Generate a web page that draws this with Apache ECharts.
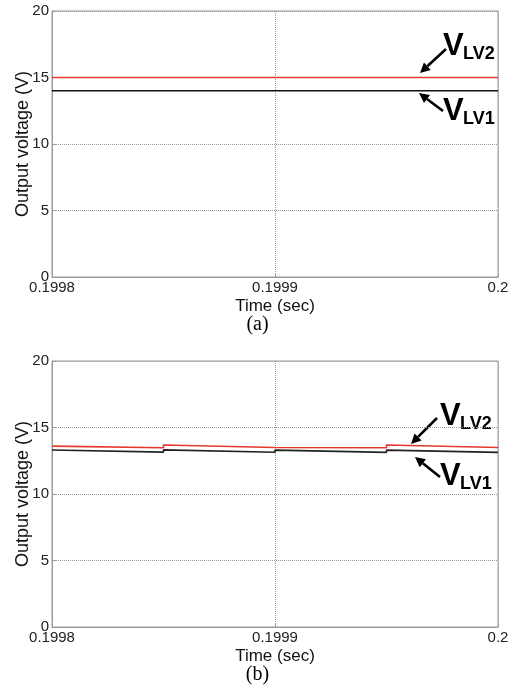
<!DOCTYPE html>
<html>
<head>
<meta charset="utf-8">
<script src="https://cdn.jsdelivr.net/npm/echarts@6/dist/echarts.min.js"></script>
<style>
html, body { margin: 0; padding: 0; background: #fff; }
#chart { width: 515px; height: 690px; }
</style>
</head>
<body>
<div id="chart"></div>
<script>
// time axis (sec)
var xTicks = [0.1998, 0.1999, 0.2];
var yTicks = [0, 5, 10, 15, 20];

// (a) steady outputs
var timeA = [0.1998, 0.2];
var vLv2A = [15, 15];
var vLv1A = [14, 14];

// (b) outputs with small steps every 25 us
var timeB = [0.1998, 0.19985, 0.19985, 0.1999, 0.1999, 0.19995, 0.19995, 0.2];
var vLv2B = [13.6, 13.48, 13.68, 13.5, 13.64, 13.48, 13.68, 13.5];
var vLv1B = [13.31, 13.15, 13.32, 13.14, 13.3, 13.13, 13.3, 13.13];

var font = 'Liberation Sans, Arial, sans-serif';
var gray = '#9a9a9a';

function pairs(t, v) {
  var out = [];
  for (var i = 0; i < t.length; i++) out.push([t[i], v[i]]);
  return out;
}

function xAxisFor(idx) {
  return {
    gridIndex: idx, type: 'value',
    min: xTicks[0], max: xTicks[xTicks.length - 1], interval: 0.0001,
    name: 'Time (sec)', nameLocation: 'middle', nameGap: 21,
    nameTextStyle: { fontFamily: font, fontSize: 17, color: '#111' },
    axisLine: { lineStyle: { color: gray, width: 1 } },
    axisTick: { inside: true, length: 4, lineStyle: { color: gray } },
    axisLabel: {
      fontFamily: font, fontSize: 15, color: '#222', margin: 3,
      formatter: function (v) { return String(+v.toFixed(4)); }
    },
    splitLine: { show: true, lineStyle: { color: '#999', type: 'dotted', width: 1 } }
  };
}

function yAxisFor(idx) {
  return {
    gridIndex: idx, type: 'value', min: yTicks[0], max: yTicks[yTicks.length - 1], interval: 5,
    name: 'Output voltage (V)', nameLocation: 'middle', nameGap: 20, nameMoveOverlap: false,
    nameTextStyle: { fontFamily: font, fontSize: 18, color: '#111' },
    axisLine: { show: true, lineStyle: { color: gray, width: 1 } },
    axisTick: { inside: true, length: 4, lineStyle: { color: gray } },
    axisLabel: { fontFamily: font, fontSize: 15, color: '#222', margin: 3 },
    splitLine: { show: true, lineStyle: { color: '#999', type: 'dotted', width: 1 } }
  };
}

function line(idx, name, t, v, color) {
  return {
    type: 'line', name: name, xAxisIndex: idx, yAxisIndex: idx,
    data: pairs(t, v), symbol: 'none', animation: false,
    lineStyle: { color: color, width: 1.6 }
  };
}

function arrow(x1, y1, x2, y2) {
  var a = Math.atan2(y2 - y1, x2 - x1), L = 10, W = 5;
  var bx = x2 - L * Math.cos(a), by = y2 - L * Math.sin(a);
  var px = -Math.sin(a) * W, py = Math.cos(a) * W;
  return {
    type: 'group', children: [
      { type: 'line', shape: { x1: x1, y1: y1, x2: bx, y2: by }, style: { stroke: '#000', lineWidth: 2.6 } },
      { type: 'polygon', shape: { points: [[x2, y2], [bx + px, by + py], [bx - px, by - py]] }, style: { fill: '#000' } }
    ]
  };
}

function vLabel(x, y, sub) {
  return [
    { type: 'text', left: x, top: y, style: { text: 'V', font: 'bold 31px ' + font, fill: '#000' } },
    { type: 'text', left: x + 20, top: y + 14, style: { text: sub, font: 'bold 18px ' + font, fill: '#000' } }
  ];
}

function caption(y, txt) {
  return { type: 'text', left: 'center', top: y, style: { text: txt, font: '20px Liberation Serif, Times New Roman, serif', fill: '#000' } };
}

var graphics = [].concat(
  vLabel(443, 31, 'LV2'), [arrow(446, 49, 420, 73)],
  vLabel(443, 96, 'LV1'), [arrow(443, 111, 419, 93)],
  vLabel(440, 401, 'LV2'), [arrow(437, 418, 411, 444)],
  vLabel(440, 461, 'LV1'), [arrow(440, 477, 415, 457)],
  [caption(315, '(a)'), caption(665, '(b)')]
);

var chart = echarts.init(document.getElementById('chart'));
chart.setOption({
  backgroundColor: '#fff',
  animation: false,
  grid: [
    { left: 52, top: 11, width: 446, height: 266, show: true, borderColor: gray, borderWidth: 1, outerBoundsMode: 'none' },
    { left: 52, top: 361, width: 446, height: 266, show: true, borderColor: gray, borderWidth: 1, outerBoundsMode: 'none' }
  ],
  xAxis: [xAxisFor(0), xAxisFor(1)],
  yAxis: [yAxisFor(0), yAxisFor(1)],
  series: [
    line(0, 'VLV2', timeA, vLv2A, '#e5392e'),
    line(0, 'VLV1', timeA, vLv1A, '#111'),
    line(1, 'VLV2', timeB, vLv2B, '#e5392e'),
    line(1, 'VLV1', timeB, vLv1B, '#222')
  ],
  graphic: graphics
});
</script>
</body>
</html>
